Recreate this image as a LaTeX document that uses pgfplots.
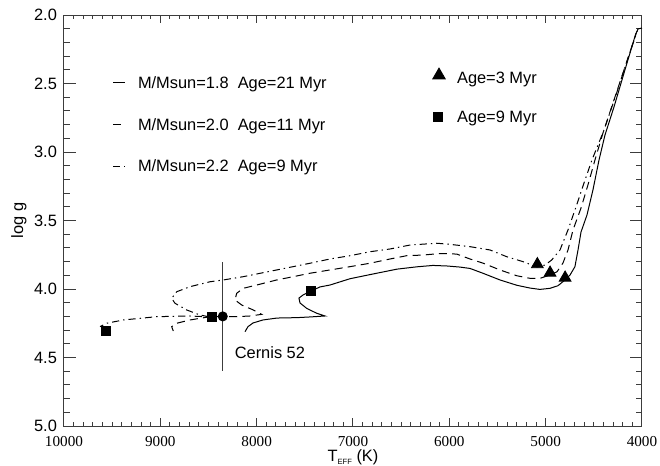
\documentclass[border=0pt]{standalone}
\usepackage{fontspec}
\setmainfont{Liberation Sans}
\newfontfamily\tnr{Liberation Serif}
\usepackage{pgfplots}
\pgfplotsset{compat=1.18}

\definecolor{axgray}{RGB}{60,60,60}

\pgfplotsset{
  trk/.style={black, line width=0.5pt},
  dshd/.style={trk, dash pattern=on 4pt off 2.6pt},
  dsdt/.style={trk, dash pattern=on 3.6pt off 2pt on 0.7pt off 2pt},
}

\begin{document}
\begin{tikzpicture}
\begin{axis}[
  scale only axis, width=289pt, height=205.5pt,
  xmin=4000, xmax=10000, ymin=2, ymax=5,
  x dir=reverse, y dir=reverse,
  xtick={4000,5000,6000,7000,8000,9000,10000},
  ytick={2.0,2.5,3.0,3.5,4.0,4.5,5.0},
  scaled x ticks=false, scaled y ticks=false,
  minor x tick num=9, minor y tick num=4,
  major x tick style={/pgfplots/major tick length=3.9pt},
  minor x tick style={/pgfplots/minor tick length=2.1pt},
  major y tick style={/pgfplots/major tick length=6pt},
  minor y tick style={/pgfplots/minor tick length=3pt},
  axis line style={axgray, line width=0.5pt},
  every tick/.style={axgray, line width=0.5pt},
  /pgf/number format/assume math mode=true,
  xticklabel style={font=\tnr\fontsize{7.6}{8}\selectfont, yshift=-1.5pt,
    /pgf/number format/.cd, fixed, precision=0, 1000 sep={}},
  yticklabel style={font=\fontsize{8.2}{9}\selectfont,
    /pgf/number format/.cd, fixed, fixed zerofill, precision=1},
  clip=false,
]

% M/Msun = 1.8
\addplot[trk] coordinates {
 (4062,2.131) (4177,2.401) (4291,2.672) (4384,2.876) (4446,3.058)
 (4509,3.277) (4571,3.460) (4633,3.584) (4664,3.715) (4696,3.837)
 (4747,3.898) (4799,3.934) (4872,3.976) (4955,3.995) (5059,4.003)
 (5163,3.993) (5298,3.973) (5474,3.934) (5651,3.885) (5785,3.850)
 (5889,3.840) (6024,3.832) (6170,3.828) (6336,3.838) (6543,3.855)
 (6824,3.895) (7031,3.925) (7239,3.971) (7343,3.985) (7436,4.015)
 (7519,4.044) (7561,4.066) (7550,4.102) (7481,4.141) (7377,4.177)
 (7291,4.197) (7446,4.204) (7581,4.209) (7789,4.212) (7934,4.226)
 (8038,4.248) (8090,4.275) (8121,4.312)
};

% M/Msun = 2.0
\addplot[dshd] coordinates {
 (4052,2.117) (4177,2.380) (4301,2.642) (4405,2.861) (4488,3.058)
 (4561,3.241) (4633,3.409) (4716,3.569) (4768,3.715) (4820,3.810)
 (4882,3.874) (4955,3.898) (5059,3.922) (5163,3.922) (5301,3.903)
 (5474,3.861) (5647,3.812) (5785,3.781) (5923,3.745) (6097,3.741)
 (6270,3.752) (6443,3.757) (6616,3.781) (6824,3.812) (7031,3.837)
 (7239,3.861) (7446,3.885) (7620,3.910) (7792,3.934) (8000,3.971)
 (8139,3.995) (8207,4.031) (8225,4.080) (8155,4.117) (8035,4.153)
 (7948,4.185) (8069,4.197) (8207,4.202) (8349,4.202) (8484,4.202)
 (8588,4.214) (8692,4.226) (8830,4.250) (8882,4.275) (8865,4.307)
};

% M/Msun = 2.2
\addplot[dsdt] coordinates {
 (4000,2.095) (4042,2.102) (4145,2.314) (4270,2.584) (4394,2.839)
 (4519,3.058) (4602,3.226) (4685,3.401) (4768,3.569) (4851,3.715)
 (4937,3.788) (5007,3.825) (5090,3.839) (5232,3.801) (5405,3.764)
 (5578,3.715) (5785,3.691) (5993,3.674) (6131,3.666) (6408,3.679)
 (6616,3.708) (6824,3.728) (7031,3.757) (7239,3.781) (7446,3.812)
 (7792,3.861) (8139,3.910) (8346,3.934) (8484,3.947) (8692,3.983)
 (8830,4.020) (8882,4.068) (8848,4.104) (8726,4.153) (8588,4.190)
 (8484,4.204) (8692,4.197) (9038,4.202) (9384,4.226) (9557,4.250)
 (9626,4.275)
};

% Cernis 52
\addplot[only marks, mark=*, mark size=2.3pt, black,
  error bars/.cd, y dir=both, y explicit,
  error mark=none, error bar style={axgray, line width=0.6pt}]
  coordinates {(8352,4.20) +- (0,0.40)};

% age markers
\addplot[only marks, mark=square*, mark size=2.25pt, black]
  coordinates {(9564,4.307) (8463,4.207) (7435,4.015)};
\addplot[only marks, mark=triangle*, mark size=3.4pt, black]
  coordinates {(5086,3.820) (4954,3.882) (4798,3.918)};

% legend
\addplot[trk]  coordinates {(9491,2.495) (9367,2.495)};
\addplot[dshd] coordinates {(9491,2.800) (9367,2.800)};
\addplot[dsdt] coordinates {(9491,3.105) (9367,3.105)};
\addplot[only marks, mark=triangle*, mark size=3.6pt, black]
  coordinates {(6107,2.440)};
\addplot[only marks, mark=square*, mark size=2.1pt, black]
  coordinates {(6118,2.745)};

\begin{scope}[font=\fontsize{8.2}{9}\selectfont]
\node[anchor=west] at (axis cs:9305,2.505) {M/Msun=1.8\ \ Age=21 Myr};
\node[anchor=west] at (axis cs:9305,2.810) {M/Msun=2.0\ \ Age=11 Myr};
\node[anchor=west] at (axis cs:9305,3.115) {M/Msun=2.2\ \ Age=9 Myr};
\node[anchor=west] at (axis cs:5993,2.468) {Age=3 Myr};
\node[anchor=west] at (axis cs:5993,2.757) {Age=9 Myr};
\node[anchor=west] at (axis cs:8300,4.465) {Cernis 52};
\node[rotate=90] at ([xshift=-22.5pt]axis description cs:0,0.5) {log g};
\node at ([yshift=-15.5pt]axis description cs:0.5,0)
  {T\raisebox{-0.4ex}{\fontsize{3.8}{4}\selectfont EFF} (K)};
\end{scope}
\end{axis}
\pgfresetboundingbox
\useasboundingbox (-32pt,-20pt) rectangle (298pt,213pt);
\end{tikzpicture}
\end{document}
